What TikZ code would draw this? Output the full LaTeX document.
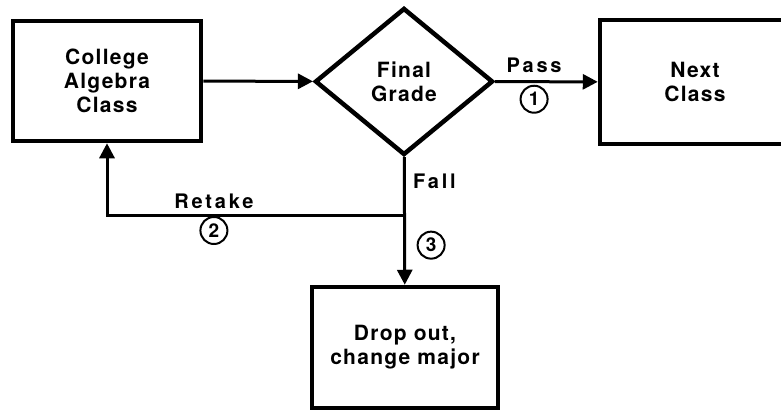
\documentclass[tikz,border=0pt]{standalone}
\usepackage{fontspec}
\setmainfont{TeX Gyre Heros}
\newfontfamily\boxfont[LetterSpace=6]{TeX Gyre Heros}
\newfontfamily\tagfont[LetterSpace=14]{TeX Gyre Heros}
\usetikzlibrary{arrows.meta,shapes.geometric}

\begin{document}
\begin{tikzpicture}[x=1pt,y=-1pt,
 block/.style={rectangle,draw,line width=4.5pt,align=center,
   font=\boxfont\bfseries\fontsize{21}{24}\selectfont},
 decision/.style={diamond,draw,line width=4.5pt,align=center,inner sep=0pt,
   minimum width=178pt,minimum height=147pt,
   font=\boxfont\bfseries\fontsize{21}{24}\selectfont},
 tag/.style={font=\tagfont\bfseries\fontsize{20}{22}\selectfont},
 num/.style={circle,draw,line width=2pt,minimum size=27pt,inner sep=0pt,
   font=\bfseries\fontsize{19}{19}\selectfont},
 arr/.style={-{Triangle[length=15pt,width=15pt]},line width=3pt}]
\useasboundingbox (0,0) rectangle (781,412);
\clip (0,0) rectangle (781,412);
\node[block,minimum width=188pt,minimum height=120pt] (college) at (107,81) {College\\Algebra\\Class};
\node[decision] (grade) at (404,81.5) {Final\\Grade};
\node[block,minimum width=190pt,minimum height=124pt] (next) at (695,82) {Next\\Class};
\node[block,minimum width=186pt,minimum height=121pt] (dropout) at (405,347.5) {Drop out,\\change major};
\coordinate (split) at (404,215);
\draw[arr] (college)--(grade);
\draw[arr] (grade)--node[tag,pos=0.38,above=4pt]{Pass} node[num,pos=0.38,below=3pt]{1}(next);
\draw[arr] (grade)--node[tag,pos=0.19,right=4pt]{Fall} node[num,pos=0.69,right=12pt]{3}(dropout);
\draw[arr] (split)-|node[tag,pos=0.32,above=1pt]{Retake} node[num,pos=0.32,below=1pt]{2}(college.south);
\end{tikzpicture}
\end{document}
